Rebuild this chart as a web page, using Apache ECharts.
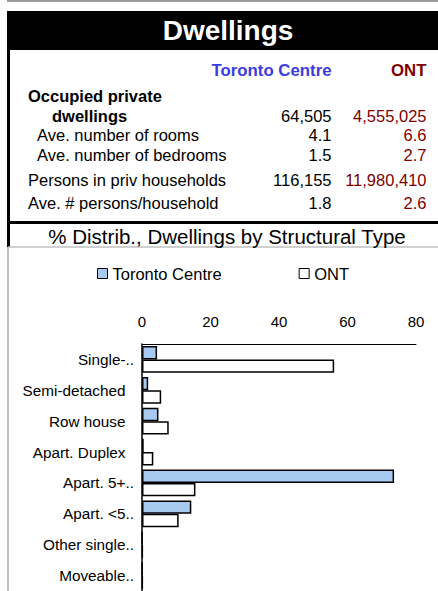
<!DOCTYPE html>
<html>
<head>
<meta charset="utf-8">
<style>
  html, body { margin: 0; padding: 0; background: #fff; }
  #main { width: 438px; height: 591px; }
</style>
<script src="https://cdn.jsdelivr.net/npm/echarts@6/dist/echarts.min.js"></script>
</head>
<body>
<div id="main"></div>
<script>
var FONT = "'Liberation Sans', Arial, sans-serif";

// table data
var tableLabels = ['Occupied private', 'dwellings', 'Ave. number of rooms', 'Ave. number of bedrooms', 'Persons in priv households', 'Ave. # persons/household'];
var torontoValues = ['', '64,505', '4.1', '1.5', '116,155', '1.8'];
var ontValues = ['', '4,555,025', '6.6', '2.7', '11,980,410', '2.6'];

// chart data
var categories = ['Single-..', 'Semi-detached', 'Row house', 'Apart. Duplex', 'Apart. 5+..', 'Apart. <5..', 'Other single..', 'Moveable..'];
var torontoPct = [4.4, 1.8, 4.8, 0.5, 73.6, 14.4, 0.1, 0.1];
var ontPct = [56.1, 5.6, 7.8, 3.3, 15.6, 10.7, 0.2, 0.2];

/* row layout of the table */
var rowY = [96, 116, 135, 155, 180, 203];
var rowX = [28, 52, 37, 37, 28, 28];
var rowBold = [true, true, false, false, false, false];

function txt(x, y, text, opt) {
	opt = opt || {};
	return {
		type: 'text',
		x: x,
		y: y,
		silent: true,
		style: {
			text: text,
			fill: opt.fill || '#000',
			fontSize: opt.size || 16.5,
			fontWeight: opt.bold ? 'bold' : 'normal',
			fontFamily: FONT,
			align: opt.align || 'left',
			verticalAlign: 'middle'
		}
	};
}

function getGraphics() {
	var g = [];
	// frame lines
	g.push({ type: 'line', shape: { x1: 7, y1: 1, x2: 438, y2: 1 }, style: { stroke: '#999', lineWidth: 2 } });
	g.push({ type: 'rect', shape: { x: 7, y: 11, width: 431, height: 39 }, style: { fill: '#000' } });
	g.push({ type: 'rect', shape: { x: 7, y: 50, width: 3, height: 197 }, style: { fill: '#000' } });
	g.push({ type: 'rect', shape: { x: 7, y: 221, width: 431, height: 3 }, style: { fill: '#000' } });
	g.push({ type: 'line', shape: { x1: 8, y1: 247, x2: 438, y2: 247 }, style: { stroke: '#c0c0c0', lineWidth: 1.5 } });
	g.push({ type: 'line', shape: { x1: 8, y1: 247, x2: 8, y2: 591 }, style: { stroke: '#c0c0c0', lineWidth: 2 } });

	g.push(txt(228, 30, 'Dwellings', { fill: '#fff', size: 28, bold: true, align: 'center' }));
	g.push(txt(331.5, 70.5, 'Toronto Centre', { fill: '#3c3cdc', size: 16.8, bold: true, align: 'right' }));
	g.push(txt(426.5, 70.5, 'ONT', { fill: '#800000', size: 16.8, bold: true, align: 'right' }));

	for(var i = 0; i < tableLabels.length; i++) {
		g.push(txt(rowX[i], rowY[i], tableLabels[i], { bold: rowBold[i] }));
		if(torontoValues[i]) {
			g.push(txt(331.5, rowY[i], torontoValues[i], { align: 'right' }));
		}
		if(ontValues[i]) {
			g.push(txt(426.5, rowY[i], ontValues[i], { fill: '#800000', align: 'right' }));
		}
	}
	g.push(txt(227, 236, '% Distrib., Dwellings by Structural Type', { size: 20.5, align: 'center' }));
	return g;
}

function getOption() {
	var option = {
		animation: false,
		backgroundColor: '#fff',
		textStyle: { fontFamily: FONT },
		legend: {
			data: ['Toronto Centre', 'ONT'],
			left: 97,
			top: 265,
			padding: 0,
			icon: 'rect',
			itemWidth: 10,
			itemHeight: 10,
			itemGap: 77,
			itemStyle: { borderColor: '#000', borderWidth: 1 },
			textStyle: { color: '#000', fontSize: 16.5, fontFamily: FONT }
		},
		grid: {
			left: 142,
			right: 22,
			top: 344,
			height: 248
		},
		xAxis: [{
			type: 'value',
			position: 'top',
			min: 0,
			max: 80,
			interval: 20,
			axisLine: { show: true, lineStyle: { color: '#000', width: 1 } },
			axisTick: { show: false },
			splitLine: { show: false },
			axisLabel: { color: '#000', fontSize: 15, margin: 15, fontFamily: FONT }
		}],
		yAxis: [{
			type: 'category',
			inverse: true,
			data: categories,
			axisLine: { show: true, lineStyle: { color: '#000', width: 1.5 } },
			axisTick: { show: false },
			axisLabel: {
				color: '#000',
				fontSize: 15.3,
				margin: 8,
				fontFamily: FONT,
				formatter: function(v) {
					return v.slice(-2) == '..' ? v : v + '\u00a0\u00a0';
				}
			}
		}],
		series: [{
			name: 'Toronto Centre',
			type: 'bar',
			data: torontoPct,
			barGap: '0%',
			barCategoryGap: '13%',
			itemStyle: { color: '#a6caf0', borderColor: '#000', borderWidth: 1.5 }
		}, {
			name: 'ONT',
			type: 'bar',
			data: ontPct,
			barGap: '0%',
			barCategoryGap: '13%',
			itemStyle: { color: '#fff', borderColor: '#000', borderWidth: 1.5 }
		}],
		graphic: getGraphics()
	};
	return option;
}

var chart = echarts.init(document.getElementById('main'), null, { renderer: 'svg' });
chart.setOption(getOption());
</script>
</body>
</html>
